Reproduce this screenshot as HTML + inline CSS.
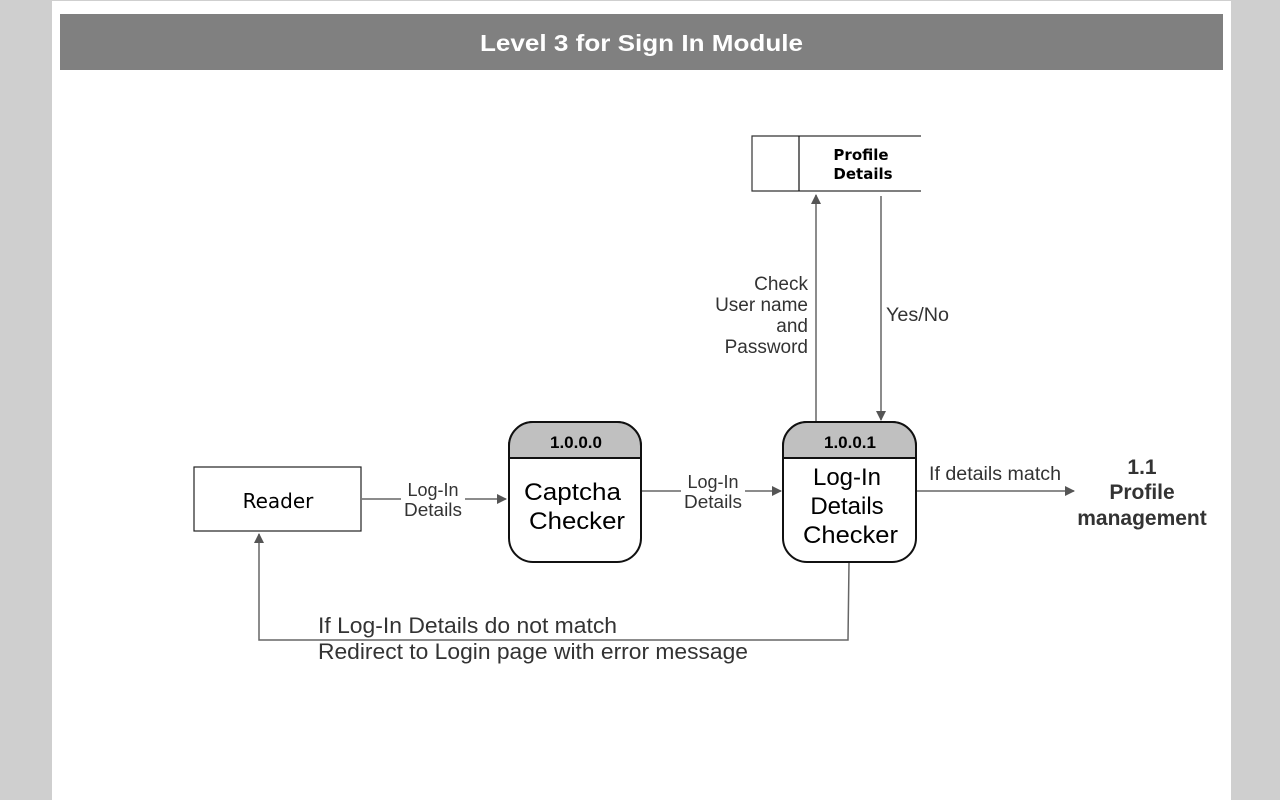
<!DOCTYPE html>
<html><head><meta charset="utf-8"><style>
body{margin:0;background:#cfcfcf;width:1280px;height:800px;overflow:hidden}
svg{display:block}
text{font-family:"Liberation Sans",sans-serif}
</style></head><body>
<svg width="1280" height="800" xmlns="http://www.w3.org/2000/svg">
<defs><marker id="a" markerWidth="10" markerHeight="10" refX="9" refY="5" orient="auto" markerUnits="userSpaceOnUse"><path d="M0,0 L10,5 L0,10 z" fill="#555"/></marker></defs>
<rect x="0" y="0" width="1280" height="800" fill="#cfcfcf"/>
<rect x="52" y="1" width="1179" height="799" fill="#fff"/>
<rect x="60" y="14" width="1163" height="56" fill="#808080"/>
<text x="480" y="51" font-size="23" font-weight="bold" fill="#fff" textLength="323" lengthAdjust="spacingAndGlyphs">Level 3 for Sign In Module</text>

<!-- data store -->
<path d="M921,136 H752 V191 H921" fill="none" stroke="#333" stroke-width="1.2"/>
<line x1="799" y1="136" x2="799" y2="191" stroke="#111" stroke-width="1.2"/>
<text x="861" y="160" text-anchor="middle" font-size="15" font-weight="bold" style="font-family:'DejaVu Sans',sans-serif">Profile</text>
<text x="863" y="179" text-anchor="middle" font-size="15" font-weight="bold" style="font-family:'DejaVu Sans',sans-serif">Details</text>

<!-- reader -->
<rect x="194" y="467" width="167" height="64" fill="#fff" stroke="#222" stroke-width="1.2"/>
<text x="278" y="508" text-anchor="middle" font-size="20" style="font-family:'DejaVu Sans',sans-serif">Reader</text>

<!-- captcha -->
<rect x="509" y="422" width="132" height="140" rx="24" fill="#fff" stroke="#111" stroke-width="2"/>
<path d="M509,458 V446 a24,24 0 0 1 24,-24 H617 a24,24 0 0 1 24,24 V458 z" fill="#c0c0c0" stroke="#111" stroke-width="2"/>
<text x="576" y="448" text-anchor="middle" font-size="17" font-weight="bold">1.0.0.0</text>
<text x="524" y="500" font-size="24" textLength="97" lengthAdjust="spacingAndGlyphs">Captcha</text>
<text x="529" y="529" font-size="24" textLength="96" lengthAdjust="spacingAndGlyphs">Checker</text>

<!-- login checker -->
<rect x="783" y="422" width="133" height="140" rx="24" fill="#fff" stroke="#111" stroke-width="2"/>
<path d="M783,458 V446 a24,24 0 0 1 24,-24 H892 a24,24 0 0 1 24,24 V458 z" fill="#c0c0c0" stroke="#111" stroke-width="2"/>
<text x="850" y="448" text-anchor="middle" font-size="17" font-weight="bold">1.0.0.1</text>
<text x="847" y="485" text-anchor="middle" font-size="24">Log-In</text>
<text x="847" y="514" text-anchor="middle" font-size="24">Details</text>
<text x="803" y="543" font-size="24" textLength="95" lengthAdjust="spacingAndGlyphs">Checker</text>

<g stroke="#666" stroke-width="1.5" fill="none">
<line x1="362" y1="499" x2="506" y2="499" marker-end="url(#a)"/>
<line x1="642" y1="491" x2="781" y2="491" marker-end="url(#a)"/>
<line x1="816" y1="421" x2="816" y2="195" marker-end="url(#a)"/>
<line x1="881" y1="196" x2="881" y2="420" marker-end="url(#a)"/>
<line x1="917" y1="491" x2="1074" y2="491" marker-end="url(#a)"/>
<polyline points="849,563 848,640 259,640 259,534" marker-end="url(#a)"/>
</g>
<rect x="401" y="480" width="64" height="38" fill="#fff"/>
<text x="433" y="496" text-anchor="middle" font-size="18" fill="#333">Log-In</text>
<text x="404" y="516" font-size="18" fill="#333" textLength="58" lengthAdjust="spacingAndGlyphs">Details</text>
<rect x="681" y="472" width="64" height="38" fill="#fff"/>
<text x="713" y="488" text-anchor="middle" font-size="18" fill="#333">Log-In</text>
<text x="684" y="508" font-size="18" fill="#333" textLength="58" lengthAdjust="spacingAndGlyphs">Details</text>
<g font-size="19" fill="#333" text-anchor="end">
<text x="808" y="290">Check</text>
<text x="808" y="311">User name</text>
<text x="808" y="332">and</text>
<text x="808" y="353">Password</text>
</g>
<text x="886" y="321" font-size="19" fill="#333" textLength="63" lengthAdjust="spacingAndGlyphs">Yes/No</text>
<text x="929" y="480" font-size="19" fill="#333" textLength="132" lengthAdjust="spacingAndGlyphs">If details match</text>
<g font-size="21" font-weight="bold" fill="#333" text-anchor="middle">
<text x="1142" y="474">1.1</text>
<text x="1142" y="499">Profile</text>
<text x="1142" y="525">management</text>
</g>
<text x="318" y="633" font-size="22" fill="#333" textLength="299" lengthAdjust="spacingAndGlyphs">If Log-In Details do not match</text>
<text x="318" y="659" font-size="22" fill="#333" textLength="430" lengthAdjust="spacingAndGlyphs">Redirect to Login page with error message</text>
</svg>
</body></html>
